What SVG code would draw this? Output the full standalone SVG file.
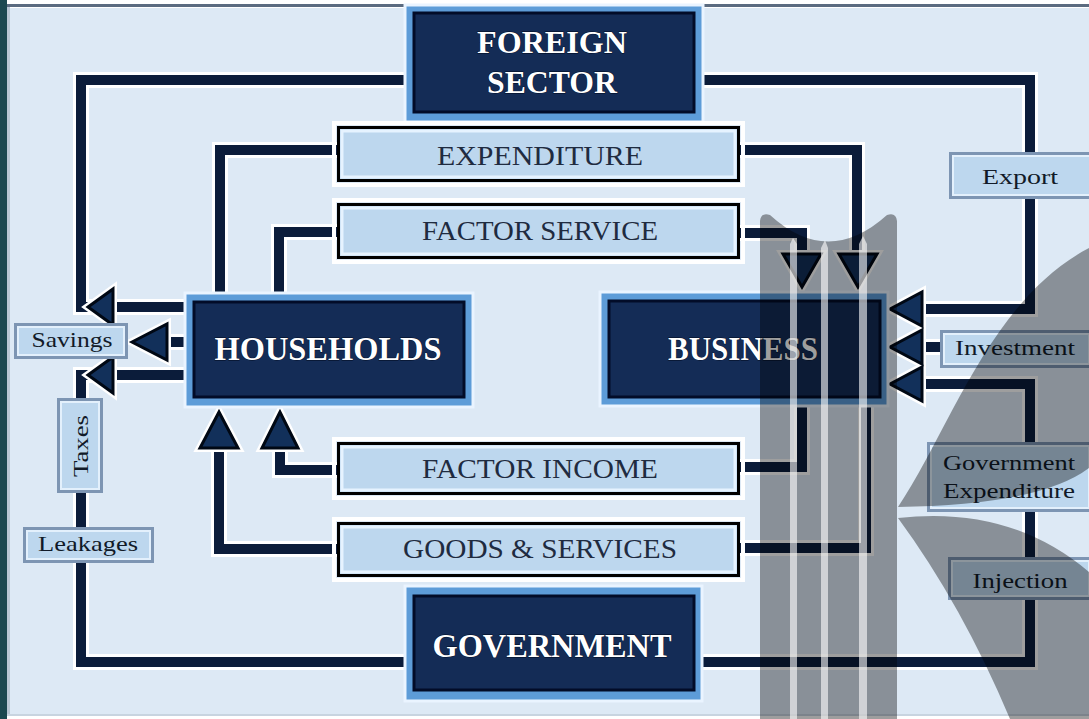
<svg xmlns="http://www.w3.org/2000/svg" width="1089" height="719" viewBox="0 0 1089 719">
<style>
.halo{fill:none;stroke:#ffffff;stroke-width:16;stroke-linejoin:miter}
.ln{fill:none;stroke:#0b1c3a;stroke-width:10;stroke-linejoin:miter}
.ah{fill:#12305a;stroke:#000814;stroke-width:3;stroke-linejoin:miter}
.ahh{fill:#ffffff;stroke:#ffffff;stroke-width:8;stroke-linejoin:miter}
.nodeO{fill:#5d9cd8;stroke:#eaf4ff;stroke-width:3}
.nodeI{fill:#142c56;stroke:#020c28;stroke-width:3}
.nodeT{font-family:"Liberation Serif","Times New Roman",serif;font-weight:bold;fill:#ffffff;text-anchor:middle;stroke:#000a20;stroke-width:0.8;paint-order:stroke}
.flowB{fill:#bdd7ee;stroke:#000000;stroke-width:3}
.flowI{fill:none;stroke:#e6f3ff;stroke-width:3}
.flowH{fill:none;stroke:#ffffff;stroke-width:4}
.flowT{font-family:"Liberation Serif","Times New Roman",serif;font-size:28px;fill:#1f2b40;text-anchor:middle}
.lab{fill:#bdd7ee;stroke:#7d95b3;stroke-width:3}
.labI{fill:none;stroke:#e3f0fc;stroke-width:2}
.labT{font-family:"Liberation Serif","Times New Roman",serif;font-size:21px;fill:#111a28;text-anchor:middle}
.wm{fill:#000000;fill-opacity:0.38}
.wms{fill:#ffffff;fill-opacity:0.6}
</style>
<!-- background frame -->
<rect x="0" y="0" width="1089" height="719" fill="#ffffff"/>
<rect x="10" y="8" width="1079" height="706" fill="#dde9f5"/>
<rect x="0" y="0" width="7" height="719" fill="#1b4850"/>
<rect x="7" y="4" width="1082" height="3" fill="#5b6b80"/>
<rect x="7" y="7" width="3" height="708" fill="#b8c6d4"/>
<rect x="7" y="714" width="1082" height="2" fill="#c8d4e0"/>

<g id="connectors">
  <path class="halo" d="M405,80 H81 V307 H185"/>
  <path class="halo" d="M167,342 H185"/>
  <path class="halo" d="M185,375 H81 V662 H405"/>
  <path class="halo" d="M220,293 V150 H337"/>
  <path class="halo" d="M740,150 H857 V262"/>
  <path class="halo" d="M279,293 V232 H337"/>
  <path class="halo" d="M740,233 H802 V262"/>
  <path class="halo" d="M337,470 H280 V440"/>
  <path class="halo" d="M740,467 H802 V407"/>
  <path class="halo" d="M337,549 H219 V440"/>
  <path class="halo" d="M740,548 H866 V407"/>
  <path class="halo" d="M703,80 H1030 V309 H915"/>
  <path class="halo" d="M940,347 H915"/>
  <path class="halo" d="M702,662 H1030 V384 H915"/>

  <path class="ln" d="M405,80 H81 V307 H185"/>
  <path class="ln" d="M167,342 H185"/>
  <path class="ln" d="M185,375 H81 V662 H405"/>
  <path class="ln" d="M220,293 V150 H337"/>
  <path class="ln" d="M740,150 H857 V262"/>
  <path class="ln" d="M279,293 V232 H337"/>
  <path class="ln" d="M740,233 H802 V262"/>
  <path class="ln" d="M337,470 H280 V440"/>
  <path class="ln" d="M740,467 H802 V407"/>
  <path class="ln" d="M337,549 H219 V440"/>
  <path class="ln" d="M740,548 H866 V407"/>
  <path class="ln" d="M703,80 H1030 V309 H915"/>
  <path class="ln" d="M940,347 H915"/>
  <path class="ln" d="M702,662 H1030 V384 H915"/>

  <!-- arrowheads -->
  <polygon class="ahh" points="88,307 113,289 113,325"/>
  <polygon class="ahh" points="132,342 167,324 167,360"/>
  <polygon class="ahh" points="88,375 113,357 113,393"/>
  <polygon class="ahh" points="219,412 200,448 238,448"/>
  <polygon class="ahh" points="280,412 262,448 298,448"/>
  <polygon class="ahh" points="802,287 783,254 821,254"/>
  <polygon class="ahh" points="858,287 839,254 877,254"/>
  <polygon class="ahh" points="890,309 922,292 922,326"/>
  <polygon class="ahh" points="890,347 922,330 922,364"/>
  <polygon class="ahh" points="890,384 922,367 922,401"/>

  <polygon class="ah" points="88,307 113,289 113,325"/>
  <polygon class="ah" points="132,342 167,324 167,360"/>
  <polygon class="ah" points="88,375 113,357 113,393"/>
  <polygon class="ah" points="219,412 200,448 238,448"/>
  <polygon class="ah" points="280,412 262,448 298,448"/>
  <polygon class="ah" points="802,287 783,254 821,254"/>
  <polygon class="ah" points="858,287 839,254 877,254"/>
  <polygon class="ah" points="890,309 922,292 922,326"/>
  <polygon class="ah" points="890,347 922,330 922,364"/>
  <polygon class="ah" points="890,384 922,367 922,401"/>
</g>

<g id="foreign-sector">
  <rect class="nodeO" x="405" y="5" width="298" height="117"/>
  <rect class="nodeI" x="414" y="13" width="280" height="99"/>
  <text class="nodeT" x="552" y="53" font-size="32" textLength="150" lengthAdjust="spacingAndGlyphs">FOREIGN</text>
  <text class="nodeT" x="552" y="93" font-size="32" textLength="130" lengthAdjust="spacingAndGlyphs">SECTOR</text>
</g>

<g id="households">
  <rect class="nodeO" x="185" y="293" width="288" height="114"/>
  <rect class="nodeI" x="194" y="302" width="270" height="95"/>
  <text class="nodeT" x="328" y="360" font-size="33" textLength="227" lengthAdjust="spacingAndGlyphs">HOUSEHOLDS</text>
</g>

<g id="business">
  <rect class="nodeO" x="600" y="292" width="288" height="114"/>
  <rect class="nodeI" x="609" y="301" width="271" height="96"/>
  <text class="nodeT" x="743" y="360" font-size="33" textLength="150" lengthAdjust="spacingAndGlyphs">BUSINESS</text>
</g>

<g id="government">
  <rect class="nodeO" x="405" y="586" width="297" height="115"/>
  <rect class="nodeI" x="414" y="596" width="280" height="94"/>
  <text class="nodeT" x="552" y="657" font-size="34" textLength="239" lengthAdjust="spacingAndGlyphs">GOVERNMENT</text>
</g>

<g id="expenditure">
  <rect class="flowH" x="334" y="123" width="409" height="62"/>
  <rect class="flowB" x="338.5" y="127.5" width="400" height="53"/>
  <rect class="flowI" x="342" y="131" width="393" height="46"/>
  <text class="flowT" x="540" y="165" textLength="206" lengthAdjust="spacingAndGlyphs">EXPENDITURE</text>
</g>

<g id="factor-service">
  <rect class="flowH" x="334" y="200" width="409" height="62"/>
  <rect class="flowB" x="338.5" y="204.5" width="400" height="53"/>
  <rect class="flowI" x="342" y="208" width="393" height="46"/>
  <text class="flowT" x="540" y="240" textLength="236" lengthAdjust="spacingAndGlyphs">FACTOR SERVICE</text>
</g>

<g id="factor-income">
  <rect class="flowH" x="334" y="439" width="409" height="59"/>
  <rect class="flowB" x="338.5" y="443.5" width="400" height="50"/>
  <rect class="flowI" x="342" y="447" width="393" height="43"/>
  <text class="flowT" x="540" y="478" textLength="236" lengthAdjust="spacingAndGlyphs">FACTOR INCOME</text>
</g>

<g id="goods-services">
  <rect class="flowH" x="334" y="519" width="409" height="61"/>
  <rect class="flowB" x="338.5" y="523.5" width="400" height="52"/>
  <rect class="flowI" x="342" y="527" width="393" height="45"/>
  <text class="flowT" x="540" y="558" textLength="274" lengthAdjust="spacingAndGlyphs">GOODS &amp; SERVICES</text>
</g>

<g id="savings">
  <rect class="lab" x="15.5" y="324.5" width="111" height="33"/>
  <rect class="labI" x="18" y="327" width="106" height="28"/>
  <text class="labT" x="72" y="347" textLength="81" lengthAdjust="spacingAndGlyphs">Savings</text>
</g>

<g id="taxes">
  <rect class="lab" x="58.5" y="399.5" width="43" height="92"/>
  <rect class="labI" x="61" y="402" width="38" height="87"/>
  <text class="labT" transform="translate(88,446) rotate(-90)" x="0" y="0" textLength="62" lengthAdjust="spacingAndGlyphs">Taxes</text>
</g>

<g id="leakages">
  <rect class="lab" x="24.5" y="528.5" width="128" height="33"/>
  <rect class="labI" x="27" y="531" width="123" height="28"/>
  <text class="labT" x="88" y="551" textLength="100" lengthAdjust="spacingAndGlyphs">Leakages</text>
</g>

<g id="export">
  <rect class="lab" x="950.5" y="153.5" width="140" height="44"/>
  <rect class="labI" x="953" y="156" width="137" height="39"/>
  <text class="labT" x="1020" y="184" textLength="76" lengthAdjust="spacingAndGlyphs">Export</text>
</g>

<g id="investment">
  <rect class="lab" x="941.5" y="331.5" width="148" height="35"/>
  <rect class="labI" x="944" y="334" width="145" height="30"/>
  <text class="labT" x="1015" y="355" textLength="120" lengthAdjust="spacingAndGlyphs">Investment</text>
</g>

<g id="government-expenditure">
  <rect class="lab" x="928.5" y="443.5" width="161" height="67"/>
  <rect class="labI" x="931" y="446" width="158" height="62"/>
  <text class="labT" x="1009" y="470" textLength="132" lengthAdjust="spacingAndGlyphs">Government</text>
  <text class="labT" x="1009" y="498" textLength="132" lengthAdjust="spacingAndGlyphs">Expenditure</text>
</g>

<g id="injection">
  <rect class="lab" x="949.5" y="558.5" width="140" height="40"/>
  <rect class="labI" x="952" y="561" width="137" height="35"/>
  <text class="labT" x="1020" y="588" textLength="95" lengthAdjust="spacingAndGlyphs">Injection</text>
</g>

<g id="watermark">
  <path class="wm" d="M760,719 V221 Q761,212 770,215 Q828,268 887,215 Q896,212 897,221 V719 Z"/>
  <path class="wm" d="M898,507 C950,430 990,300 1089,248 L1089,468 Q1040,505 898,507 Z"/>
  <path class="wm" d="M898,518 Q1010,505 1089,572 L1089,719 L1010,719 Q962,605 898,518 Z"/>
  <polygon class="wms" points="793,238 797,244 797,719 790,719 790,244"/>
  <polygon class="wms" points="825,240 828,248 828,719 821,719 821,248"/>
  <polygon class="wms" points="863,236 867,244 867,719 859,719 859,244"/>
</g>
</svg>
